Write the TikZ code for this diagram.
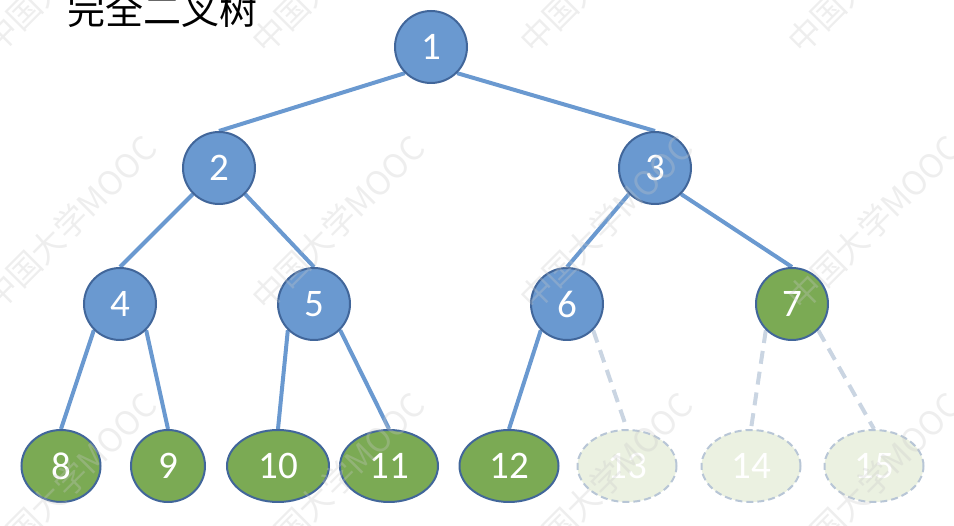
\documentclass[tikz,border=0pt]{standalone}
\usepackage{fontspec}
\setmainfont{Carlito}
\newfontfamily\cjk{Noto Sans CJK SC}
\usetikzlibrary{shapes.geometric,backgrounds}

\definecolor{nodeblue}{HTML}{6A99D0}
\definecolor{rimblue}{HTML}{41669A}
\definecolor{edgeblue}{HTML}{6A99D0}
\definecolor{leafgreen}{HTML}{7BAA54}
\definecolor{ghostfill}{HTML}{EBF1E1}
\definecolor{ghostrim}{HTML}{B8C6D6}
\definecolor{ghostedge}{HTML}{CAD5E2}
\definecolor{wmgray}{HTML}{C8C8C8}

\begin{document}
\begin{tikzpicture}[x=1pt,y=-1pt,
  numfont/.style={font=\fontsize{39}{39}\selectfont},
  inner/.style={circle, fill=nodeblue, draw=rimblue, line width=2pt,
    minimum size=72pt, inner sep=0pt, text=white, numfont},
  leaf/.style={ellipse, fill=leafgreen, draw=rimblue, line width=2pt,
    minimum height=72pt, inner sep=0pt, text=white, numfont},
  ghost/.style={ellipse, fill=ghostfill, draw=ghostrim, line width=2pt,
    dash pattern=on 7pt off 4pt, minimum height=72pt, inner sep=0pt,
    text=white, numfont},
  link/.style={draw=edgeblue, line width=4pt},
  ghostlink/.style={draw=ghostedge, line width=4pt, dash pattern=on 13pt off 8pt},
  wmark/.style={rotate=45, text=wmgray, text opacity=0.3, inner sep=0pt,
    font=\cjk\fontsize{33}{33}\selectfont}
]
\useasboundingbox (0,0) rectangle (954,526);
\clip (0,0) rectangle (954,526);

% title
\node[anchor=base west, inner sep=0pt, font=\cjk\fontsize{38}{38}\selectfont]
  (title) at (67,25) {完全二叉树};

% internal nodes
\node[inner] (n1) at (431,47) {1};
\node[inner] (n2) at (219,168) {2};
\node[inner] (n3) at (655,168) {3};
\node[inner] (n4) at (120,304) {4};
\node[inner] (n5) at (314,304) {5};
\node[inner] (n6) at (567,304) {6};
\node[circle, fill=leafgreen, draw=rimblue, line width=2pt, minimum size=72pt,
  inner sep=0pt, text=white, numfont] (n7) at (792,304) {7};

% bottom level
\node[leaf, minimum width=79pt]  (n8)  at (61,466)  {8};
\node[leaf, minimum width=74pt]  (n9)  at (168,466) {9};
\node[leaf, minimum width=102pt] (n10) at (278,466) {10};
\node[leaf, minimum width=98pt]  (n11) at (389,466) {11};
\node[leaf, minimum width=99pt]  (n12) at (509,466) {12};
\node[ghost, minimum width=99pt] (n13) at (627,466) {13};
\node[ghost, minimum width=99pt] (n14) at (751,466) {14};
\node[ghost, minimum width=99pt] (n15) at (874,466) {15};

% connectors
\begin{scope}[on background layer]
  \draw[link] (n1.south west) -- (n2.north);
  \draw[link] (n1.south east) -- (n3.north);
  \draw[link] (n2.south west) -- (n4.north);
  \draw[link] (n2.south east) -- (n5.north);
  \draw[link] (n3.south west) -- (n6.north);
  \draw[link] (n3.south east) -- (n7.north);
  \draw[link] (n4.south west) -- (n8.north);
  \draw[link] (n4.south east) -- (n9.north);
  \draw[link] (n5.south west) -- (n10.north);
  \draw[link] (n5.south east) -- (n11.north);
  \draw[link] (n6.south west) -- (n12.north);
  \draw[ghostlink] (n6.south east) -- (n13.north);
  \draw[ghostlink] (n7.south west) -- (n14.north);
  \draw[ghostlink] (n7.south east) -- (n15.north);
\end{scope}

% watermark grid
\foreach \cx [count=\i] in {70,338,606,874}
  \foreach \cy [count=\j] in {-34,223,480}
    \node[wmark] (wm-\i-\j) at (\cx,\cy) {中国大学MOOC};
\end{tikzpicture}
\end{document}
